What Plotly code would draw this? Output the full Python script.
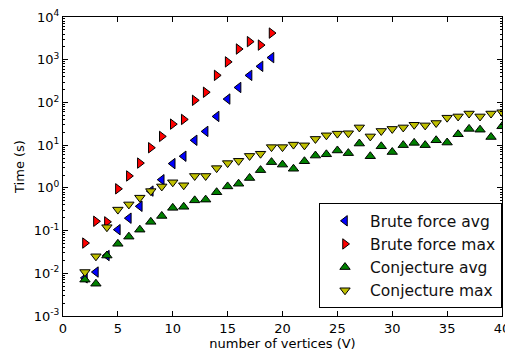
import plotly.graph_objects as go

# x values (number of vertices)
bf_x = list(range(2, 20))
cj_x = list(range(2, 41))

brute_avg = [0.0078, 0.0107, 0.026, 0.105, 0.195, 0.37, 0.84, 1.55, 3.7, 5.5,
             13, 21, 47, 120, 224, 430, 700, 1120]
brute_max = [0.051, 0.165, 0.16, 0.95, 1.9, 3.8, 8.7, 16, 31, 40,
             112, 173, 430, 890, 1780, 2650, 2200, 4200]
conj_avg = [0.0071, 0.0057, 0.026, 0.049, 0.072, 0.105, 0.16, 0.22, 0.34, 0.36,
            0.51, 0.53, 0.79, 1.08, 1.25, 1.7, 2.6, 4.0, 3.5, 2.8,
            4.2, 5.7, 6.1, 7.5, 6.5, 10.9, 5.5, 9.4, 6.9, 10.0,
            11.3, 10.0, 13.0, 11.5, 18.0, 24.0, 23.0, 15.5, 27.6]
conj_max = [0.0107, 0.025, 0.12, 0.31, 0.41, 0.59, 0.84, 1.08, 1.35, 1.15,
            1.9, 1.9, 2.9, 3.8, 4.3, 5.6, 6.3, 9.0, 9.0, 10.3,
            9.9, 14, 17, 18.6, 19, 26, 16, 21.5, 24, 26,
            30, 29, 33, 44, 47, 55, 47, 55, 59]

y_exponents = [-3, -2, -1, 0, 1, 2, 3, 4]
y_tickvals = [10.0 ** e for e in y_exponents]
y_ticktext = ["10<sup>%d</sup>" % e for e in y_exponents]
y_minor = [m * 10.0 ** e for e in y_exponents[:-1] for m in range(2, 10)]

series = [
    ("Brute force avg", bf_x, brute_avg, "triangle-left", "#0000ff"),
    ("Brute force max", bf_x, brute_max, "triangle-right", "#ff0000"),
    ("Conjecture avg", cj_x, conj_avg, "triangle-up", "#008000"),
    ("Conjecture max", cj_x, conj_max, "triangle-down", "#bfbf00"),
]

fig = go.Figure()
for name, xs, ys, sym, col in series:
    fig.add_trace(go.Scatter(
        x=xs, y=ys, mode="markers", name=name,
        marker=dict(symbol=sym, size=9, color=col,
                    line=dict(color="black", width=1)),
    ))

fig.update_layout(
    width=505, height=353,
    margin=dict(l=63, r=3, t=17, b=37),
    paper_bgcolor="white", plot_bgcolor="white",
    font=dict(family="DejaVu Sans", size=13, color="black"),
    showlegend=True,
    legend=dict(
        x=1, xanchor="right", y=0.026, yanchor="bottom",
        bordercolor="black", borderwidth=1, bgcolor="white",
        font=dict(family="DejaVu Sans", size=15.5, color="#111111"),
        tracegroupgap=0, itemwidth=40,
    ),
)
fig.update_xaxes(
    range=[0, 40], dtick=5, tick0=0, automargin=False,
    showgrid=False, zeroline=False,
    showline=True, linecolor="black", linewidth=1, mirror="ticks",
    ticks="inside", ticklen=5, tickcolor="black",
    ticklabeloverflow="allow",
    title=dict(text="number of vertices (V)", font=dict(size=13), standoff=4),
    tickfont=dict(size=13),
)
fig.update_yaxes(
    type="log", range=[-3, 4], automargin=False,
    tickmode="array", tickvals=y_tickvals, ticktext=y_ticktext,
    showgrid=False, zeroline=False,
    showline=True, linecolor="black", linewidth=1, mirror="ticks",
    ticks="inside", ticklen=5, tickcolor="black",
    minor=dict(ticks="inside", ticklen=2, tickcolor="black",
               tickmode="array", tickvals=y_minor, showgrid=False),
    title=dict(text="Time (s)", font=dict(size=13), standoff=6),
    tickfont=dict(size=13),
)
fig.write_html("out.html", config={"displayModeBar": False},
               post_script="document.body.style.margin='0';")
